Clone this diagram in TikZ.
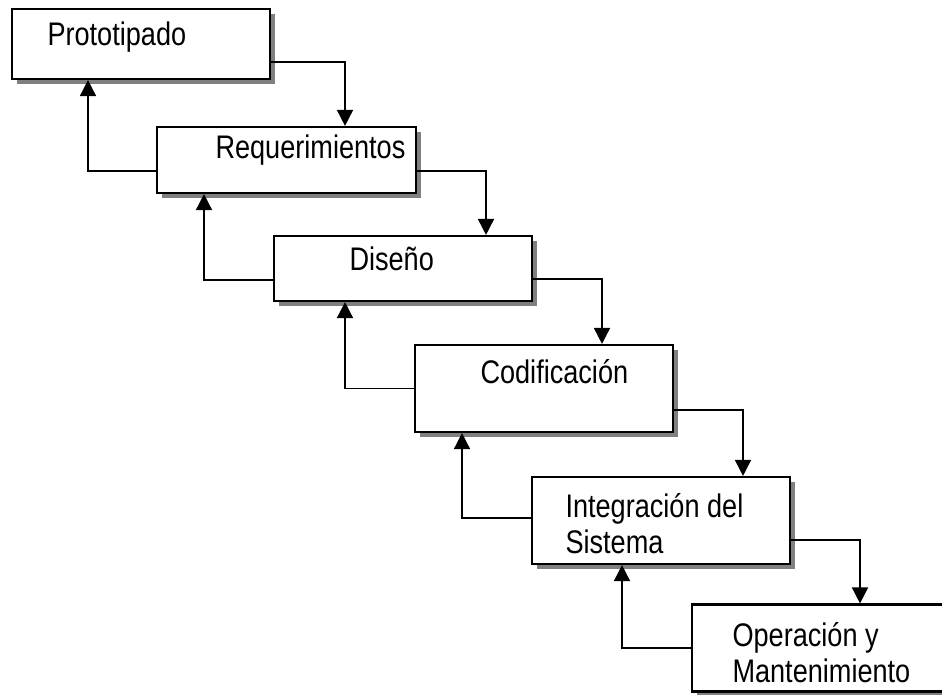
\documentclass[tikz,border=0pt]{standalone}
\usepackage{fontspec}
\setmainfont{Liberation Sans}[FakeStretch=0.83]
\usetikzlibrary{shadows,arrows.meta}

\tikzset{every picture/.style={line width=0.75pt}}
\tikzset{
  etapa/.style={draw=black, line width=1.6pt, fill=white, inner sep=0pt,
    minimum width=193.5pt,
    drop shadow={shadow xshift=3.75pt, shadow yshift=-3.75pt, fill=gray, opacity=1}},
  rotulo/.style={anchor=base west, inner sep=0pt, align=left,
    font=\fontsize{24.5}{27}\selectfont},
  flujo/.style={line width=1.2pt, -{Triangle[length=12pt,width=12pt]}}
}

\begin{document}
\begin{tikzpicture}[x=0.75pt,y=0.75pt,yscale=-1,xscale=1]
\useasboundingbox (0,0) rectangle (942,694);

%Shape: Rectangles (etapas)
\node [etapa, minimum height=52.5pt] (p) at (141,44) {};
\node [etapa, minimum height=49.5pt, minimum width=194.25pt] (r) at (286.5,160) {};
\node [etapa, minimum height=48.75pt] (d) at (403,268.5) {};
\node [etapa, minimum height=65.25pt] (c) at (544,388.5) {};
\node [etapa, minimum height=65.25pt] (i) at (661,520.5) {};
\node [etapa, minimum height=65.25pt] (o) at (821,648) {};

% Text Node
\node [rotulo] (pt) at (47,45) {Prototipado};
% Text Node
\node [rotulo] (rt) at (215,158) {Requerimientos};
% Text Node
\node [rotulo] (dt) at (349,270) {Diseño};
% Text Node
\node [rotulo] (ct) at (480,383) {Codificación};
% Text Node
\node [rotulo] (it) at (565,553) {Integración del\\Sistema};
% Text Node
\node [rotulo] (ot) at (732,682) {Operación y\\Mantenimiento};

%Straight Lines: hacia abajo
\draw [flujo] ([yshift=13.5pt]p.east) -| ([xshift=43.875pt]r.north);
\draw [flujo] ([yshift=8.25pt]r.east) -| ([xshift=62.25pt]d.north);
\draw [flujo] ([yshift=7.875pt]d.east) -| ([xshift=43.5pt]c.north);
\draw [flujo] ([yshift=16.125pt]c.east) -| ([xshift=61.5pt]i.north);
\draw [flujo] ([yshift=14.625pt]i.east) -| ([xshift=29.25pt]o.north);

%Straight Lines: retorno
\draw [flujo] ([yshift=8.25pt]r.west) -| ([xshift=-39.75pt]p.south);
\draw [flujo] ([yshift=8.625pt]d.west) -| ([xshift=-61.875pt]r.south);
\draw [flujo] (c.west) -| ([xshift=-43.5pt]d.south);
\draw [flujo] ([yshift=-1.875pt]i.west) -| ([xshift=-61.5pt]c.south);
\draw [flujo] (o.west) -| ([xshift=-29.25pt]i.south);

\end{tikzpicture}
\end{document}
